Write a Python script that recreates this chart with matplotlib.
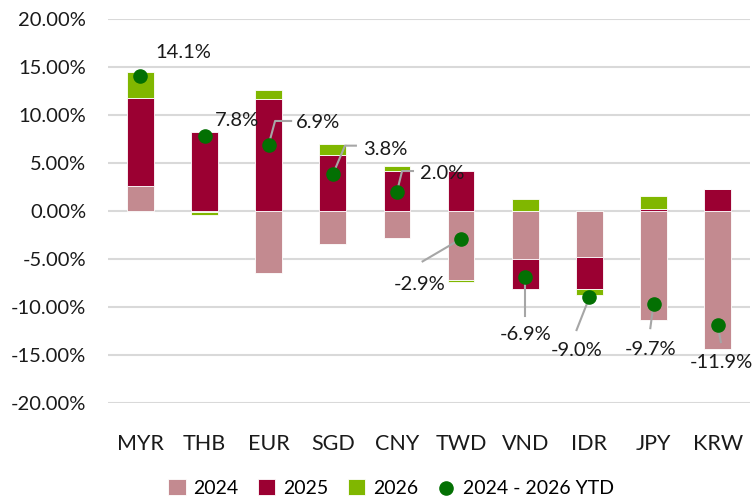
import matplotlib
matplotlib.use('Agg')
import matplotlib.pyplot as plt
import numpy as np
from matplotlib.ticker import FuncFormatter

plt.rcParams['font.family'] = ['Lato', 'DejaVu Sans']

currencies = ['MYR', 'THB', 'EUR', 'SGD', 'CNY', 'TWD', 'VND', 'IDR', 'JPY', 'KRW']
y2024 = [2.65, -0.15, -6.5, -3.4, -2.8, -7.2, -5.05, -4.8, -11.4, -14.4]
y2025 = [9.1, 8.25, 11.7, 5.85, 4.2, 4.12, -3.1, -3.35, 0.2, 2.3]
y2026 = [2.76, -0.3, 0.9, 1.1, 0.45, -0.2, 1.27, -0.6, 1.35, 0.0]
ytd = [14.1, 7.8, 6.9, 3.8, 2.0, -2.9, -6.9, -9.0, -9.7, -11.9]
series_names = ['2024', '2025', '2026']
ytd_name = '2024 - 2026 YTD'

colors = ['#C38A90', '#9B0032', '#80B700']
dot_color = '#037003'
lead_color = '#A6A6A6'

# label layout: text offset (dx, dy), alignment, leader points (offsets)
label_pos = [
    (0.23, 2.4, 'left', None),
    (0.16, 1.65, 'left', None),
    (0.42, 2.3, 'left', [(0.1, 2.47), (0.35, 2.47)]),
    (0.47, 2.6, 'left', [(0.19, 3.0), (0.36, 3.0)]),
    (0.36, 1.95, 'left', [(0.08, 2.16), (0.25, 2.16)]),
    (-0.25, -4.8, 'right', [(-0.6, -2.35)]),
    (0.0, -6.0, 'center', [(0.0, -4.0)]),
    (-0.2, -5.5, 'center', [(-0.2, -3.4)]),
    (-0.05, -4.75, 'center', [(-0.05, -2.5)]),
    (0.06, -3.9, 'center', [(0.05, -1.75)]),
]

fig = plt.figure(figsize=(7.52, 4.97), dpi=100)
ax = fig.add_axes([0.144, 0.189, 0.853, 0.773])

x = np.arange(len(currencies))
pos_bottom = np.zeros(len(x))
neg_bottom = np.zeros(len(x))
for name, vals, c in zip(series_names, [y2024, y2025, y2026], colors):
    vals = np.array(vals)
    bottoms = np.where(vals >= 0, pos_bottom, neg_bottom)
    ax.bar(x, vals, 0.415, bottom=bottoms, color=c, edgecolor='white',
           linewidth=0.6, label=name, zorder=2)
    pos_bottom += np.where(vals >= 0, vals, 0)
    neg_bottom += np.where(vals < 0, vals, 0)

for i, v in enumerate(ytd):
    dx, dy, ha, lead = label_pos[i]
    if lead:
        xs = [i] + [i + p[0] for p in lead]
        ys = [v] + [v + p[1] for p in lead]
        ax.plot(xs, ys, color=lead_color, lw=1.5, zorder=3)
    ax.text(i + dx, v + dy, f'{v:.1f}%', ha=ha, va='center', fontsize=14.5,
            color='#1a1a1a', zorder=5)

ax.scatter(x, ytd, s=90, color=dot_color, zorder=4, label=ytd_name)

ax.set_ylim(-20, 20)
ax.set_xlim(-0.5, 9.5)
ax.set_yticks(np.arange(-20, 21, 5))
ax.yaxis.set_major_formatter(FuncFormatter(lambda v, p: f'{v:.2f}%'))
ax.set_xticks(x)
ax.set_xticklabels(currencies)
ax.tick_params(axis='both', length=0, colors='#1a1a1a')
ax.tick_params(axis='x', pad=22, labelsize=15.5)
ax.tick_params(axis='y', pad=16, labelsize=14.5)
ax.grid(axis='y', color='#D9D9D9', lw=1.5, zorder=0)
ax.set_axisbelow(True)
for s in ax.spines.values():
    s.set_visible(False)

handles, labels = ax.get_legend_handles_labels()
order = [labels.index(n) for n in series_names + [ytd_name]]
fig.legend([handles[k] for k in order], [labels[k] for k in order],
           loc='lower center', bbox_to_anchor=(0.52, -0.035), ncol=4,
           frameon=False, fontsize=14, handlelength=0.9, handleheight=0.9,
           handletextpad=0.4, columnspacing=1.0)

fig.savefig('out.png', dpi=100)
